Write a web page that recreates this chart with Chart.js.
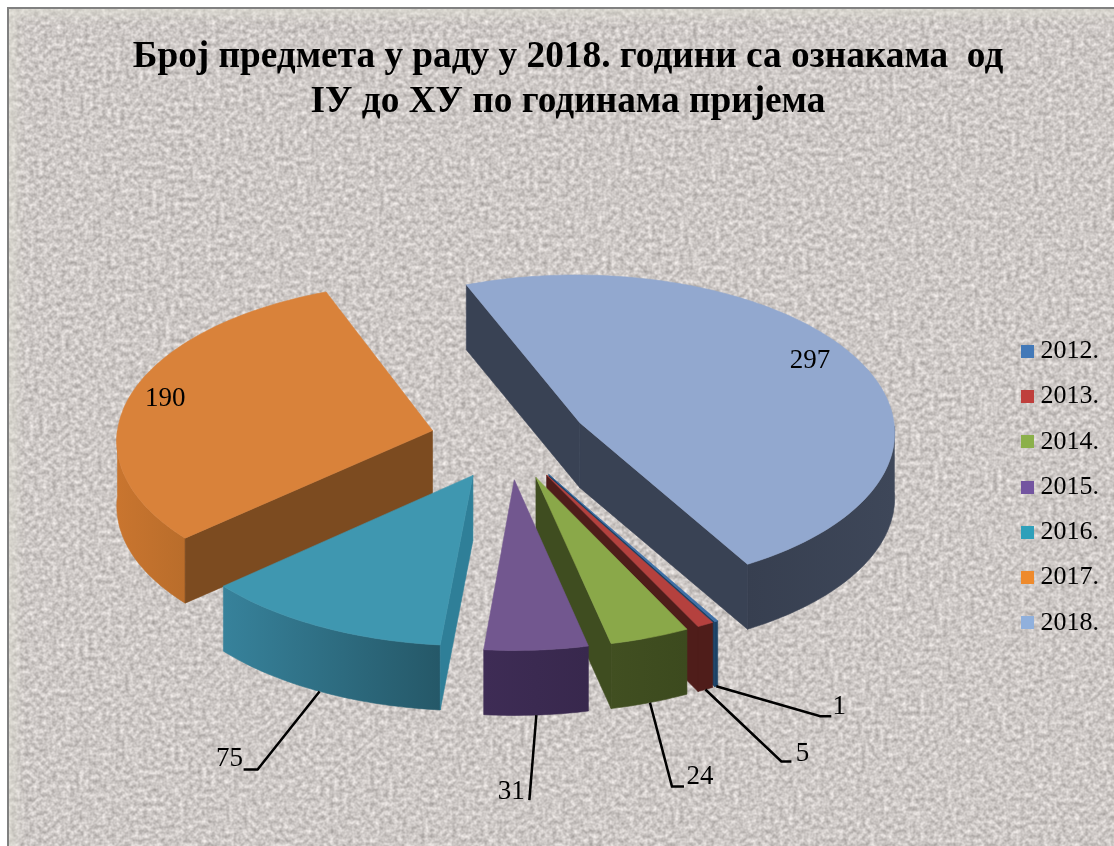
<!DOCTYPE html>
<html lang="sr">
<head>
<meta charset="UTF-8">
<title>Број предмета</title>
<script src="https://cdn.jsdelivr.net/npm/chart.js"></script>
<style>
  html, body { margin: 0; padding: 0; background: #fff; overflow: hidden; }
  #wrap { position: relative; width: 1114px; height: 846px; }
  #paper { position: absolute; left: 7px; top: 7px; width: 1107px; height: 839px; }
  #edge { position: absolute; left: 7px; top: 7px; width: 1105px; height: 837px; border-left: 2px solid #808080; border-top: 2px solid #808080;
    box-shadow: inset 7px 7px 10px rgba(226,226,214,.55); }
  canvas { position: absolute; left: 0; top: 0; }
</style>
</head>
<body>
<div id="wrap">
  <svg id="paper" xmlns="http://www.w3.org/2000/svg">
    <filter id="granite" x="0" y="0" width="100%" height="100%" color-interpolation-filters="sRGB">
      <feTurbulence type="fractalNoise" baseFrequency="0.22" numOctaves="2" seed="11"/>
      <feColorMatrix type="matrix" values=".4 0 0 0 .605  .4 0 0 0 .585  .4 0 0 0 .575  0 0 0 0 1"/>
      <feGaussianBlur stdDeviation="0.7"/>
    </filter>
    <rect width="100%" height="100%" filter="url(#granite)"/>
  </svg>
  <div id="edge"></div>
  <canvas id="chart" width="1114" height="846"></canvas>
</div>
<script>
const years = ["2012.", "2013.", "2014.", "2015.", "2016.", "2017.", "2018."]
const counts = [1, 5, 24, 31, 75, 190, 297]
const titleLines = ["Број предмета у раду у 2018. години са ознакама  од", "ІУ до ХУ по годинама пријема"]

const legendColors = ["#4379b8", "#bf3f3c", "#8bb04a", "#7355a0", "#2fa0ba", "#ee8a2c", "#90b0dc"]
const faceColors = ["#3d6fa6", "#b5413e", "#8aa849", "#72578f", "#3f97b0", "#d9823a", "#92a8cf"]
const cutColors = ["#1c4266", "#4f1d1a", "#3f4d20", "#3b2a51", "#2f7f98", "#7c4b20", "#394254"]
const rimColors = [["#1c4266", "#1c4266"], ["#4f1d1a", "#4f1d1a"], ["#414f21", "#3c4a1e"], ["#3e2c55", "#38284d"], ["#37829b", "#255868"], ["#c9752f", "#b96d2b"], ["#373f50", "#3e4759"]]

// back slices first, the thin ones are stacked left over right
const drawOrder = [6, 5, 0, 1, 2, 3, 4]

const TILT = 0.5
const DEPTH = 65
const PERSP = 0.00017
const SHIFT_X = -8
const SHIFT_Y = -46
const LEGEND_SHIFT = 64

// value labels: inside the slice (fraction of radius) or out on a leader line
const insideLabel = { 5: { r: 0.885, dy: 0 }, 6: { r: 0.835, dy: -6 } }
const leaders = {
  0: { elbow: [104, 30], end: [115, 30], text: [123, 21] },
  1: { elbow: [76, 72], end: [86, 72], text: [97, 64] },
  2: { elbow: [22, 84], end: [34, 84], text: [50, 74] },
  3: { elbow: [-7, 85], end: [-7, 85], text: [-25, 77] },
  4: { elbow: [-62, 78], end: [-76, 78], text: [-90, 68] },
}

function project(el, fx, fy) {
  const s = 1 + fy * PERSP
  return { x: el.x + SHIFT_X + fx * s, y: el.y + SHIFT_Y + TILT * fy * s }
}

function slicePoints(el) {
  const mid = (el.startAngle + el.endAngle) / 2
  const off = el.options.offset
  const ox = Math.cos(mid) * off
  const oy = Math.sin(mid) * off
  const r = el.outerRadius
  const at = (a, rr) => project(el, ox + Math.cos(a) * rr, oy + Math.sin(a) * rr)
  const arc = []
  const n = Math.max(4, Math.ceil((el.endAngle - el.startAngle) * 40))
  for (let i = 0; i <= n; i++) {
    arc.push({ a: el.startAngle + ((el.endAngle - el.startAngle) * i) / n })
  }
  arc.forEach((p) => Object.assign(p, at(p.a, r)))
  return { mid, apex: at(mid, 0), arc, at }
}

function polygon(ctx, pts, fill) {
  ctx.beginPath()
  pts.forEach((p, i) => (i ? ctx.lineTo(p.x, p.y) : ctx.moveTo(p.x, p.y)))
  ctx.closePath()
  ctx.fillStyle = fill
  ctx.fill()
  ctx.strokeStyle = fill
  ctx.lineWidth = 0.6
  ctx.stroke()
}

function drop(p) {
  return { x: p.x, y: p.y + DEPTH }
}

// a cut wall shows only if the slice lies above its line on screen
function cutVisible(apex, end, inner) {
  const dx = end.x - apex.x
  if (Math.abs(dx) < 0.01) return false
  const lineY = apex.y + ((inner.x - apex.x) * (end.y - apex.y)) / dx
  return inner.y < lineY
}

function drawSlice(ctx, el, i) {
  const { mid, apex, arc, at } = slicePoints(el)
  const inner = at(mid, el.outerRadius * 0.7)

  const near = arc.filter((p) => Math.sin(p.a) >= 0)
  if (near.length > 1) {
    const xs = near.map((p) => p.x)
    const grad = ctx.createLinearGradient(Math.min(...xs), 0, Math.max(...xs), 0)
    grad.addColorStop(0, rimColors[i][0])
    grad.addColorStop(1, rimColors[i][1])
    polygon(ctx, near.concat(near.slice().reverse().map(drop)), grad)
  }

  for (const end of [arc[0], arc[arc.length - 1]]) {
    if (cutVisible(apex, end, inner)) {
      polygon(ctx, [apex, end, drop(end), drop(apex)], cutColors[i])
    }
  }

  polygon(ctx, [apex].concat(arc), faceColors[i])
}

function drawLabels(ctx, arcs) {
  ctx.font = "27px 'Liberation Serif'"
  ctx.textAlign = "center"
  ctx.textBaseline = "middle"
  arcs.forEach((el, i) => {
    const { mid, at } = slicePoints(el)
    ctx.fillStyle = "#000"
    if (insideLabel[i]) {
      const p = at(mid, el.outerRadius * insideLabel[i].r)
      ctx.fillText(counts[i], p.x, p.y + insideLabel[i].dy)
      return
    }
    const l = leaders[i]
    const s = drop(at(mid, el.outerRadius))
    ctx.beginPath()
    ctx.moveTo(s.x, s.y)
    ctx.lineTo(s.x + l.elbow[0], s.y + l.elbow[1])
    ctx.lineTo(s.x + l.end[0], s.y + l.end[1])
    ctx.strokeStyle = "#000"
    ctx.lineWidth = 2.5
    ctx.stroke()
    ctx.fillText(counts[i], s.x + l.text[0], s.y + l.text[1])
  })
}

function swatch(color) {
  const c = document.createElement("canvas")
  c.width = 13
  c.height = 13
  const g = c.getContext("2d")
  g.fillStyle = color
  g.fillRect(0, 0, 13, 13)
  return c
}

const pie3d = {
  id: "pie3d",
  afterLayout(chart) {
    chart.legend.top += LEGEND_SHIFT
    chart.legend.bottom += LEGEND_SHIFT
  },
  beforeDatasetsDraw(chart) {
    const ctx = chart.ctx
    const arcs = chart.getDatasetMeta(0).data
    ctx.save()
    drawOrder.forEach((i) => drawSlice(ctx, arcs[i], i))
    drawLabels(ctx, arcs)
    ctx.restore()
    return false
  },
}

new Chart(document.getElementById("chart"), {
  type: "pie",
  plugins: [pie3d],
  data: {
    labels: years,
    datasets: [{
      data: counts,
      backgroundColor: legendColors,
      borderWidth: 0,
      offset: 79,
      radius: 316,
      rotation: 150,
    }],
  },
  options: {
    responsive: false,
    animation: false,
    layout: { padding: { left: 27, right: 5 } },
    plugins: {
      tooltip: { enabled: false },
      title: {
        display: true,
        text: titleLines,
        color: "#000",
        font: { family: "'Liberation Serif'", size: 37.3, weight: "bold", lineHeight: 1.2 },
        padding: { top: 35, bottom: 1 },
      },
      legend: {
        position: "right",
        labels: {
          color: "#000",
          boxHeight: 13,
          usePointStyle: true,
          pointStyleWidth: 1,
          padding: 19.3,
          font: { family: "'Liberation Serif'", size: 26 },
          generateLabels: () => years.map((text, i) => ({
            text,
            index: i,
            fontColor: "#000",
            fillStyle: legendColors[i],
            lineWidth: 0,
            hidden: false,
            pointStyle: swatch(legendColors[i]),
          })),
        },
      },
    },
  },
})
</script>
</body>
</html>
